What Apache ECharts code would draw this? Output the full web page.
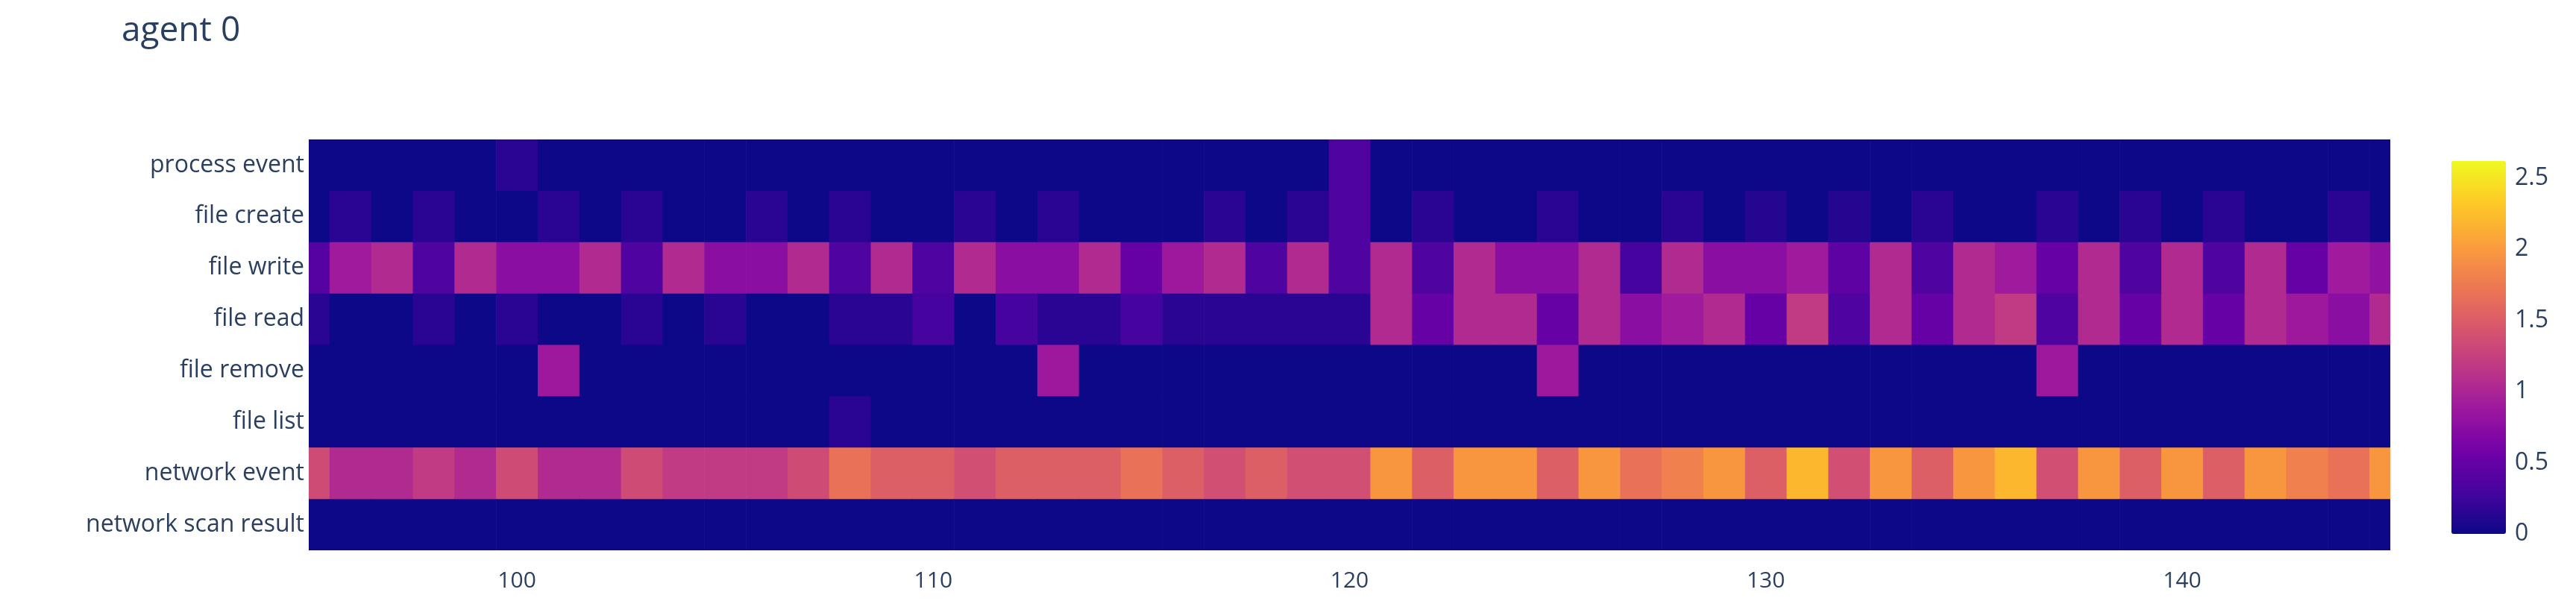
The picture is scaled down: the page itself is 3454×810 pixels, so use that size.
<!DOCTYPE html>
<html><head><meta charset="utf-8">
<script src="https://cdn.jsdelivr.net/npm/echarts@6/dist/echarts.min.js"></script>
<style>html,body{margin:0;padding:0;background:#fff}#c{width:3454px;height:810px}</style>
</head><body><div id="c"></div>
<script>
const rows = ['process event','file create','file write','file read','file remove','file list','network event','network scan result'];
const xStart = 95;
const processEvent = [0,0,0,0,0,0.15,0,0,0,0, 0,0,0,0,0,0,0,0,0,0, 0,0,0,0,0,0.35,0,0,0,0, 0,0,0,0,0,0,0,0,0,0, 0,0,0,0,0,0,0,0,0,0, 0];
const fileCreate = [0,0.15,0,0.15,0,0,0.15,0,0.15,0, 0,0.15,0,0.15,0,0,0.15,0,0.15,0, 0,0,0.15,0,0.15,0.35,0,0.15,0,0, 0.15,0,0,0.15,0,0.12,0,0.12,0,0.15, 0,0,0.15,0,0.15,0,0.15,0,0,0.15, 0];
const fileWrite = [0.4,0.9,1.05,0.35,1.05,0.75,0.75,1.05,0.35,1.05, 0.75,0.75,1.05,0.35,1.05,0.35,1.05,0.75,0.75,1.05, 0.5,0.88,1.05,0.35,1.05,0.35,1.05,0.35,1.05,0.75, 0.75,1.05,0.3,1.05,0.75,0.75,0.9,0.45,1.05,0.35, 1.05,0.9,0.5,1.05,0.35,1.05,0.35,1.05,0.5,0.9, 0.8];
const fileRead = [0.15,0,0,0.15,0,0.15,0,0,0.15,0, 0.15,0,0,0.15,0.15,0.3,0,0.3,0.15,0.15, 0.3,0.15,0.15,0.15,0.15,0.15,1.05,0.5,1.05,1.05, 0.5,1.05,0.75,0.9,1.05,0.5,1.2,0.35,1.05,0.5, 1.05,1.2,0.35,1.05,0.5,1.05,0.5,1.05,0.88,0.75, 1.05];
const fileRemove = [0,0,0,0,0,0,0.88,0,0,0, 0,0,0,0,0,0,0,0,0.88,0, 0,0,0,0,0,0,0,0,0,0, 0.88,0,0,0,0,0,0,0,0,0, 0,0,0.88,0,0,0,0,0,0,0, 0];
const fileList = [0,0,0,0,0,0,0,0,0,0, 0,0,0,0.15,0,0,0,0,0,0, 0,0,0,0,0,0,0,0,0,0, 0,0,0,0,0,0,0,0,0,0, 0,0,0,0,0,0,0,0,0,0, 0];
const networkEvent = [1.35,1.05,1.05,1.2,1.05,1.35,1.05,1.05,1.35,1.2, 1.2,1.2,1.35,1.68,1.52,1.52,1.38,1.52,1.52,1.52, 1.68,1.52,1.38,1.52,1.38,1.38,1.97,1.52,1.97,1.97, 1.52,1.97,1.68,1.8,1.97,1.52,2.2,1.38,1.97,1.52, 1.97,2.2,1.38,1.97,1.52,1.97,1.52,1.97,1.8,1.68, 1.97];
const networkScan = new Array(51).fill(0);
const colorTicks = [0,0.5,1,1.5,2,2.5];
const zMax = 2.62;
const plasma = ['#0d0887','#46039f','#7201a8','#9c179e','#bd3786','#d8576b','#ed7953','#fb9f3a','#fdca26','#f0f921'];

const series = [processEvent,fileCreate,fileWrite,fileRead,fileRemove,fileList,networkEvent,networkScan];
const data = [];
series.forEach((arr, r) => arr.forEach((v, i) => data.push([xStart + i, r, v])));

const font = '"Open Sans", sans-serif';
const txt = '#2a3f5f';
const chart = echarts.init(document.getElementById('c'));
chart.setOption({
  animation: false,
  title: {text: 'agent 0', left: 158, top: 14, textStyle: {fontFamily: font, fontSize: 46, fontWeight: 'normal', color: txt}},
  grid: [
    {left: 414, right: 249, top: 187, bottom: 72},
    {left: 3287, width: 73, top: 216, height: 500}
  ],
  xAxis: [
    {type: 'value', gridIndex: 0, min: 95, max: 145, interval: 5,
     axisLine: {show: false}, axisTick: {show: false}, splitLine: {show: false},
     axisLabel: {fontFamily: font, fontSize: 30, color: txt, margin: 26, formatter: v => (v % 10 === 0 ? String(v) : '')}},
    {type: 'value', gridIndex: 1, show: false}
  ],
  yAxis: [
    {type: 'category', gridIndex: 0, data: rows, inverse: true,
     axisLine: {show: false}, axisTick: {show: false}, splitLine: {show: false},
     axisLabel: {fontFamily: font, fontSize: 32, color: txt, margin: 6}},
    {type: 'value', gridIndex: 1, position: 'right', min: 0, max: zMax, interval: 0.5,
     axisLine: {show: false}, axisTick: {show: false}, splitLine: {show: false},
     axisLabel: {fontFamily: font, fontSize: 32, color: txt, margin: 12, formatter: v => (colorTicks.indexOf(v) >= 0 ? String(v) : '')}}
  ],
  visualMap: {type: 'continuous', min: 0, max: zMax, dimension: 2, seriesIndex: 0,
    inRange: {color: plasma}, calculable: false, text: null, showLabel: false,
    orient: 'vertical', left: 3287, top: 216, itemWidth: 73, itemHeight: 500, padding: 0},
  series: [{
    type: 'custom', xAxisIndex: 0, yAxisIndex: 0, data: data, clip: true,
    encode: {x: 0, y: 1},
    renderItem: function (params, api) {
      const p0 = api.coord([api.value(0) - 0.5, api.value(1)]);
      const sz = api.size([1, 1]);
      const shape = echarts.graphic.clipRectByRect(
        {x: p0[0], y: p0[1] - sz[1] / 2, width: sz[0] + 0.6, height: sz[1] + 0.6},
        {x: params.coordSys.x, y: params.coordSys.y, width: params.coordSys.width, height: params.coordSys.height});
      return shape && {type: 'rect', shape: shape, style: {fill: api.visual('color')}};
    }
  }]
});
</script></body></html>
